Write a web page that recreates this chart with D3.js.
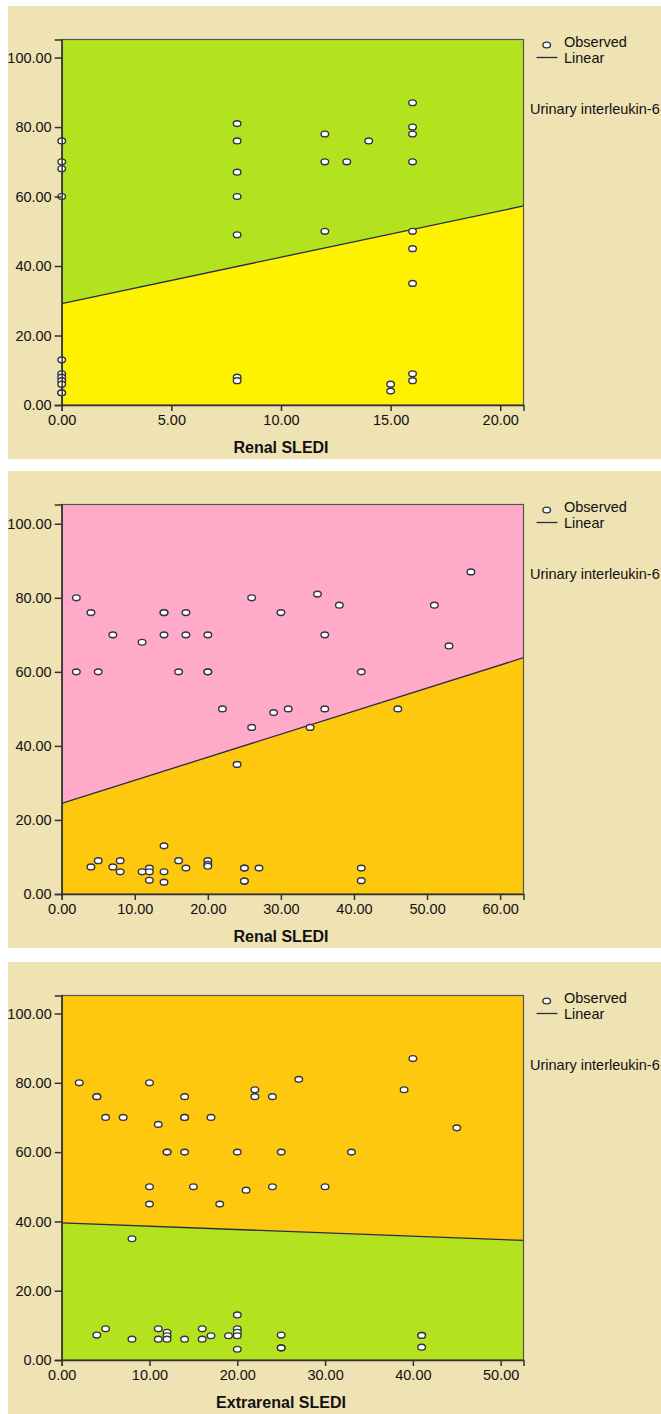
<!DOCTYPE html>
<html>
<head>
<meta charset="utf-8">
<script src="https://cdn.jsdelivr.net/npm/d3@7"></script>
<style>
  body { margin: 0; background: #fff; }
  svg { display: block; }
  text { font-family: "Liberation Sans", Arial, sans-serif; fill: #111; }
</style>
</head>
<body>
<svg id="chart" width="661" height="1414"></svg>
<script>
// panel 1: renal SLEDI (first cohort)
var renal1X = [0,0,0,0,0,0,0,0,0,0,0, 8,8,8,8,8,8,8, 12,12,12, 13, 14,
  16,16,16,16,16,16,16,16,16, 15,15];
var renal1Y = [76,70,68,60,13,9,8,7,6,3.5,3.5, 81,76,67,60,49,8,7, 78,70,50, 70, 76,
  87,80,78,70,50,45,35,9,7, 6,4];

// panel 2: renal SLEDI
var renal2X = [2,2,4,5,7,11,14,14,14,16,17,17,20,20,20,22,24,26,26,29,30,31,34,35,36,36,
  38,41,46,51,53,56,
  4,5,7,8,8,11,12,12,12,14,14,14,16,17,20,20,20,25,25,25,25,27,41,41];
var renal2Y = [80,60,76,60,70,68,76,76,70,60,76,70,70,60,60,50,35,80,45,49,76,50,45,81,70,50,
  78,60,50,78,67,87,
  7.3,9,7.3,9,6,6,7,6,3.7,13,6,3.2,9,7,9,8,7.5,7,7,3.5,3.5,7,7,3.6];

// panel 3: extrarenal SLEDI
var extraX = [2,4,4,5,7,10,10,10,11,12,12,14,14,14,14,15,17,18,20,21,22,22,24,24,25,27,30,
  33,39,40,45,
  8,4,5,8,11,11,12,12,12,14,16,16,17,19,20,20,20,20,20,25,25,25,41,41,41];
var extraY = [80,76,76,70,70,80,50,45,68,60,60,76,70,70,60,50,70,45,60,49,78,76,76,50,60,81,50,
  60,78,87,67,
  35,7.2,9,6,9,6,8,7,6,6,9,6,7,7,13,9,8,7,3.1,7.2,3.5,3.5,7.1,7.1,3.7];

var yTicks = [0, 20, 40, 60, 80, 100];

var panels = [
  { top: 6, bottom: 459, xs: renal1X, ys: renal1Y, xMax: 21.06, xTicks: [0,5,10,15,20],
    fit: [29.2, 1.334], upper: "#b3e31f", lower: "#fff200", xLabel: "Renal SLEDI" },
  { top: 471, bottom: 948, xs: renal2X, ys: renal2Y, xMax: 63.2, xTicks: [0,10,20,30,40,50,60],
    fit: [24.5, 0.622], upper: "#ffaac8", lower: "#fec80e", xLabel: "Renal SLEDI" },
  { top: 962, bottom: 1414, xs: extraX, ys: extraY, xMax: 52.6, xTicks: [0,10,20,30,40,50],
    fit: [39.6, -0.097], upper: "#fec80e", lower: "#b3e31f", xLabel: "Extrarenal SLEDI" }
];

var svg = d3.select('#chart');
var plotLeft = 61.7, plotRight = 523.5;

panels.forEach(function(p) {
    var g = svg.append('g');
    g.append('rect')
        .attr('x', 8).attr('y', p.top)
        .attr('width', 661 - 8).attr('height', p.bottom - p.top)
        .attr('fill', '#efe2b3');

    var plotTop = p.top + 33.5;
    var plotBottom = p.bottom - 54;

    var x = d3.scaleLinear().domain([0, p.xMax]).range([plotLeft, plotRight]);
    var y = d3.scaleLinear().domain([0, 105.2]).range([plotBottom, plotTop]);

    // upper and lower regions split by the fitted line
    var y0 = p.fit[0], y1 = p.fit[0] + p.fit[1] * p.xMax;
    g.append('path')
        .attr('d', 'M' + x(0) + ',' + y(105.2) + 'L' + x(p.xMax) + ',' + y(105.2) +
            'L' + x(p.xMax) + ',' + y(y1) + 'L' + x(0) + ',' + y(y0) + 'Z')
        .attr('fill', p.upper);
    g.append('path')
        .attr('d', 'M' + x(0) + ',' + y(y0) + 'L' + x(p.xMax) + ',' + y(y1) +
            'L' + x(p.xMax) + ',' + y(0) + 'L' + x(0) + ',' + y(0) + 'Z')
        .attr('fill', p.lower);

    g.append('line')
        .attr('x1', x(0)).attr('y1', y(y0))
        .attr('x2', x(p.xMax)).attr('y2', y(y1))
        .attr('stroke', '#2b2b45').attr('stroke-width', 1.3);

    // frame
    g.append('rect')
        .attr('x', plotLeft).attr('y', plotTop)
        .attr('width', plotRight - plotLeft).attr('height', plotBottom - plotTop)
        .attr('fill', 'none').attr('stroke', '#555').attr('stroke-width', 1.2);

    // points
    g.append('g').selectAll('ellipse')
        .data(p.xs.map(function(v, i) { return [v, p.ys[i]]; }))
        .enter().append('ellipse')
            .attr('cx', function(d) { return x(d[0]); })
            .attr('cy', function(d) { return y(d[1]); })
            .attr('rx', 3.8).attr('ry', 2.9)
            .attr('fill', '#fff')
            .attr('stroke', '#34343f').attr('stroke-width', 1.4);

    var xAxis = d3.axisBottom(x).tickValues(p.xTicks).tickSize(6).tickPadding(4)
        .tickFormat(d3.format('.2f'));
    var yAxis = d3.axisLeft(y).tickValues(yTicks).tickSize(7).tickPadding(3)
        .tickFormat(d3.format('.2f'));

    var xa = g.append('g').attr('transform', 'translate(0,' + plotBottom + ')').call(xAxis);
    var ya = g.append('g').attr('transform', 'translate(' + plotLeft + ',0)').call(yAxis);
    [xa, ya].forEach(function(a) {
        a.select('.domain').attr('stroke', '#333').attr('stroke-width', 1.5);
        a.selectAll('.tick line').attr('stroke', '#333').attr('stroke-width', 1.5);
        a.selectAll('.tick text').style('font-size', '14.5px').style('font-family', '"Liberation Sans", Arial, sans-serif').attr('fill', '#111');
    });

    g.append('text')
        .attr('x', 281).attr('y', plotBottom + 48)
        .attr('text-anchor', 'middle')
        .style('font-size', '16px').style('font-weight', 'bold')
        .text(p.xLabel);

    // legend
    var lg = g.append('g').attr('transform', 'translate(0,' + p.top + ')');
    lg.append('ellipse').attr('cx', 546.7).attr('cy', 39).attr('rx', 3.8).attr('ry', 2.9)
        .attr('fill', '#fff').attr('stroke', '#34343f').attr('stroke-width', 1.4);
    lg.append('text').attr('x', 564).attr('y', 41).style('font-size', '14.5px').text('Observed');
    lg.append('line').attr('x1', 536.5).attr('x2', 557.5).attr('y1', 51.5).attr('y2', 51.5)
        .attr('stroke', '#2b2b45').attr('stroke-width', 1.3);
    lg.append('text').attr('x', 564).attr('y', 57).style('font-size', '14.5px').text('Linear');

    g.append('text')
        .attr('x', 530).attr('y', p.top + 108)
        .style('font-size', '14.5px')
        .text('Urinary interleukin-6');
});
</script>
</body>
</html>
